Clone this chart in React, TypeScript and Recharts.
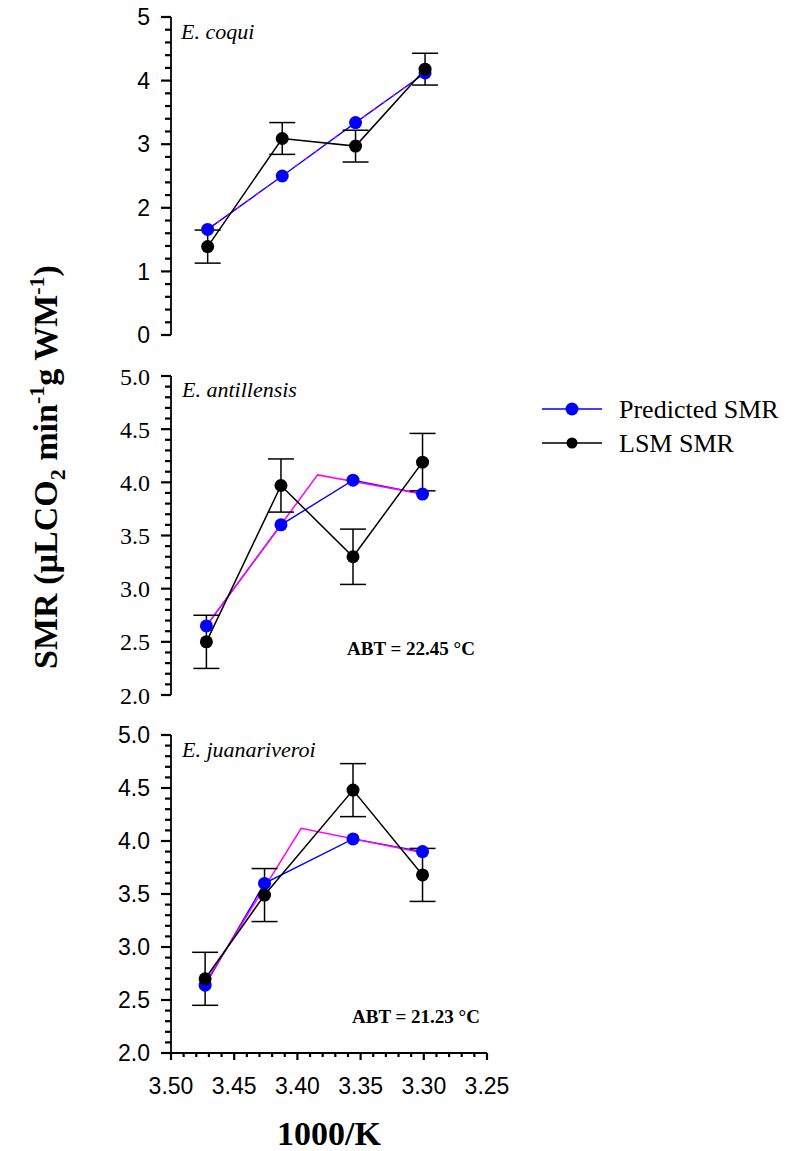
import React from 'react';
import { LineChart, Line, XAxis, YAxis, ErrorBar, Legend } from 'recharts';

// x axis (1000/K), reversed
const xTicks = [3.5, 3.45, 3.4, 3.35, 3.3, 3.25];

// E. coqui
const coquiX = [3.471, 3.412, 3.354, 3.299];
const coquiPredicted = [1.66, 2.5, 3.34, 4.12];
const coquiLsm = [1.39, 3.09, 2.97, 4.18];
const coquiSe = [0.26, 0.25, 0.25, 0.25];
const coquiFitX = [3.471, 3.412, 3.354, 3.299];
const coquiFit = [1.66, 2.5, 3.34, 4.12];
const coquiTicks = [0, 1, 2, 3, 4, 5];

// E. antillensis
const antX = [3.472, 3.413, 3.356, 3.301];
const antPredicted = [2.65, 3.6, 4.02, 3.89];
const antLsm = [2.5, 3.97, 3.3, 4.19];
const antSe = [0.25, 0.25, 0.26, 0.27];
const antFitX = [3.472, 3.384, 3.301];
const antFit = [2.65, 4.07, 3.89];
const antTicks = [2.0, 2.5, 3.0, 3.5, 4.0, 4.5, 5.0];

// E. juanariveroi
const juanX = [3.473, 3.426, 3.356, 3.301];
const juanPredicted = [2.64, 3.6, 4.02, 3.9];
const juanLsm = [2.7, 3.49, 4.48, 3.68];
const juanSe = [0.25, 0.25, 0.25, 0.25];
const juanFitX = [3.473, 3.397, 3.301];
const juanFit = [2.66, 4.12, 3.89];
const juanTicks = [2.0, 2.5, 3.0, 3.5, 4.0, 4.5, 5.0];

const legendOrder = ['Predicted SMR', 'LSM SMR'];

const SERIF = '"Liberation Serif", "Times New Roman", serif';
const SANS = '"Liberation Sans", Arial, sans-serif';

const W = 793;
const PLOT_LEFT = 171;
const PLOT_RIGHT = 487;
const AXIS_COLOR = '#000';

const toPoints = (xs: number[], ys: number[], errs?: number[]) =>
  xs.map((x, i) => ({ x, y: ys[i], err: errs ? errs[i] : 0 }));

const subdivide = (majors: number[], parts: number) => {
  const out: number[] = [];
  const sorted = [...majors].sort((a, b) => a - b);
  for (let i = 0; i < sorted.length - 1; i++) {
    for (let k = 0; k < parts; k++) {
      out.push(+(sorted[i] + ((sorted[i + 1] - sorted[i]) * k) / parts).toFixed(4));
    }
  }
  out.push(sorted[sorted.length - 1]);
  return out;
};

const isMajor = (majors: number[], v: number) => majors.some((m) => Math.abs(m - v) < 1e-6);

// tick mark for every value, label only on majors
const YTick = (props: any) => {
  const { y, payload, majors, decimals, labelFont, labelSize } = props;
  const v = payload.value;
  const major = isMajor(majors, v);
  return (
    <g>
      <path d={`M${PLOT_LEFT},${y}H${PLOT_LEFT - (major ? 10 : 6)}`} stroke={AXIS_COLOR} strokeWidth={2.2} fill="none" />
      {major && (
        <text
          x={PLOT_LEFT - 21}
          y={y}
          dy="0.36em"
          textAnchor="end"
          fontFamily={labelFont}
          fontSize={labelSize}
          fill="#000"
          style={{ fontFamily: labelFont, fontSize: labelSize }}
        >
          {v.toFixed(decimals)}
        </text>
      )}
    </g>
  );
};

const XTick = (props: any) => {
  const { x, payload, axisY } = props;
  const v = payload.value;
  const major = isMajor(xTicks, v);
  return (
    <g>
      <path d={`M${x},${axisY}V${axisY + (major ? 7 : 4)}`} stroke={AXIS_COLOR} strokeWidth={2.2} fill="none" />
      {major && (
        <text
          x={x}
          y={axisY + 41}
          textAnchor="middle"
          fontFamily={SANS}
          fontSize={23}
          fill="#000"
          style={{ fontFamily: SANS, fontSize: 23 }}
        >
          {v.toFixed(2)}
        </text>
      )}
    </g>
  );
};

const renderLegend = (props: any) => {
  const items = (props.payload || [])
    .filter((p: any) => legendOrder.includes(p.value))
    .sort((a: any, b: any) => legendOrder.indexOf(a.value) - legendOrder.indexOf(b.value));
  return (
    <svg width={250} height={72}>
      {items.map((item: any, i: number) => {
        const cy = 24 + i * 34;
        return (
          <g key={item.value}>
            <line x1={7} x2={67} y1={cy} y2={cy} stroke={item.color} strokeWidth={1.5} />
            <circle cx={37} cy={cy} r={i === 0 ? 6.5 : 5.5} fill={item.color} />
            <text x={84} y={cy} dy="0.35em" fontFamily={SERIF} fontSize={26} fill="#000">
              {item.value}
            </text>
          </g>
        );
      })}
    </svg>
  );
};

interface PanelProps {
  top: number;
  height: number;
  plotTop: number;
  plotBottom: number;
  xs: number[];
  predicted: number[];
  lsm: number[];
  se: number[];
  fitX: number[];
  fit: number[];
  yMajors: number[];
  decimals: number;
  tickFont: string;
  tickSize: number;
  showX?: boolean;
  showLegend?: boolean;
  fitDash?: string;
}

const Panel: React.FC<PanelProps> = (p) => {
  const predData = toPoints(p.xs, p.predicted);
  const lsmData = toPoints(p.xs, p.lsm, p.se);
  const fitData = toPoints(p.fitX, p.fit);
  const yMinor = subdivide(p.yMajors, 5);
  const xMinor = subdivide(xTicks, 5);
  const xAxisH = 60;
  const marginBottom = p.height - p.plotBottom - (p.showX ? xAxisH : 0);
  return (
    <div style={{ position: 'absolute', left: 0, top: p.top }}>
      <LineChart
        width={W}
        height={p.height}
        margin={{ top: p.plotTop, right: W - PLOT_RIGHT, bottom: marginBottom, left: PLOT_LEFT - 50 }}
      >
        <XAxis
          type="number"
          dataKey="x"
          domain={[3.25, 3.5]}
          reversed
          allowDataOverflow
          hide={!p.showX}
          ticks={xMinor}
          interval={0}
          height={xAxisH}
          tickLine={false}
          axisLine={{ stroke: AXIS_COLOR, strokeWidth: 1.8 }}
          tick={<XTick axisY={p.plotBottom} />}
        />
        <YAxis
          type="number"
          domain={[p.yMajors[0], p.yMajors[p.yMajors.length - 1]]}
          ticks={yMinor}
          interval={0}
          width={50}
          tickLine={false}
          axisLine={{ stroke: AXIS_COLOR, strokeWidth: 1.8 }}
          tick={<YTick majors={p.yMajors} decimals={p.decimals} labelFont={p.tickFont} labelSize={p.tickSize} />}
        />
        <Line
          data={predData}
          dataKey="y"
          name="Predicted SMR"
          stroke="#0000ff"
          strokeWidth={1.4}
          dot={false}
          activeDot={false}
          isAnimationActive={false}
        />
        <Line
          data={fitData}
          dataKey="y"
          name="fit"
          legendType="none"
          stroke="#ff00ff"
          strokeWidth={1.5}
          strokeDasharray={p.fitDash}
          dot={false}
          activeDot={false}
          isAnimationActive={false}
        />
        <Line
          data={predData}
          dataKey="y"
          name="pred-dots"
          legendType="none"
          stroke="none"
          dot={{ r: 6.5, fill: '#0000ff', stroke: 'none' }}
          activeDot={false}
          isAnimationActive={false}
        />
        <Line
          data={lsmData}
          dataKey="y"
          name="LSM SMR"
          stroke="#000"
          strokeWidth={1.5}
          dot={{ r: 6.5, fill: '#000', stroke: 'none' }}
          activeDot={false}
          isAnimationActive={false}
        >
          <ErrorBar dataKey="err" direction="y" width={13} stroke="#000" strokeWidth={1.5} />
        </Line>
        {p.showLegend && (
          <Legend
            layout="vertical"
            align="center"
            verticalAlign="middle"
            content={renderLegend}
            wrapperStyle={{ left: 535, top: 25, width: 250, height: 72 }}
          />
        )}
      </LineChart>
    </div>
  );
};

export default function App() {
  return (
    <div style={{ position: 'absolute', left: 0, top: 0, width: W, height: 1151, background: '#fff' }}>
      <Panel
        top={0}
        height={360}
        plotTop={17}
        plotBottom={335}
        xs={coquiX}
        predicted={coquiPredicted}
        lsm={coquiLsm}
        se={coquiSe}
        fitX={coquiFitX}
        fit={coquiFit}
        yMajors={coquiTicks}
        decimals={0}
        tickFont={SANS}
        tickSize={23}
        fitDash="3 9"
      />
      <Panel
        top={360}
        height={360}
        plotTop={16}
        plotBottom={335}
        xs={antX}
        predicted={antPredicted}
        lsm={antLsm}
        se={antSe}
        fitX={antFitX}
        fit={antFit}
        yMajors={antTicks}
        decimals={1}
        tickFont={SERIF}
        tickSize={24}
        showLegend
      />
      <Panel
        top={720}
        height={431}
        plotTop={15}
        plotBottom={333}
        xs={juanX}
        predicted={juanPredicted}
        lsm={juanLsm}
        se={juanSe}
        fitX={juanFitX}
        fit={juanFit}
        yMajors={juanTicks}
        decimals={1}
        tickFont={SANS}
        tickSize={23}
        showX
      />
      <svg
        width={W}
        height={1151}
        style={{ position: 'absolute', left: 0, top: 0, pointerEvents: 'none' }}
      >
        <text x={181} y={39} fontFamily={SERIF} fontStyle="italic" fontSize={22} fill="#000">E. coqui</text>
        <text x={182} y={397} fontFamily={SERIF} fontStyle="italic" fontSize={22} fill="#000">E. antillensis</text>
        <text x={182} y={757} fontFamily={SERIF} fontStyle="italic" fontSize={22} fill="#000">E. juanariveroi</text>
        <text x={347} y={655} fontFamily={SERIF} fontWeight="bold" fontSize={19} fill="#000">ABT = 22.45 °C</text>
        <text x={352} y={1023} fontFamily={SERIF} fontWeight="bold" fontSize={19} fill="#000">ABT = 21.23 °C</text>
        <text x={329} y={1145} textAnchor="middle" fontFamily={SERIF} fontWeight="bold" fontSize={34} fill="#000">1000/K</text>
        <text
          transform="translate(57,467) rotate(-90)"
          textAnchor="middle"
          fontFamily={SERIF}
          fontWeight="bold"
          fontSize={34}
          fill="#000"
        >
          SMR (µLCO<tspan fontSize={22} dy={8}>2</tspan>
          <tspan dy={-8}> min</tspan>
          <tspan fontSize={22} dy={-13}>-1</tspan>
          <tspan dy={13}>g WM</tspan>
          <tspan fontSize={22} dy={-13}>-1</tspan>
          <tspan dy={13}>)</tspan>
        </text>
      </svg>
    </div>
  );
}
